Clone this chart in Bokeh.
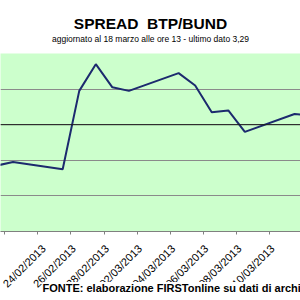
import math
import pandas as pd
from bokeh.plotting import figure
from bokeh.models import Range1d, FixedTicker, DatetimeTickFormatter, Span, Title
from bokeh.embed import file_html
from bokeh.resources import INLINE

# ---- data ----
dates = ["21/02/2013", "22/02/2013", "25/02/2013", "26/02/2013", "27/02/2013",
         "28/02/2013", "01/03/2013", "04/03/2013", "05/03/2013", "06/03/2013",
         "07/03/2013", "08/03/2013", "11/03/2013", "12/03/2013"]
spread = [2.97, 2.99, 2.95, 3.39, 3.54, 3.41, 3.39, 3.49, 3.42, 3.27,
          3.28, 3.16, 3.26, 3.25]
grid_levels = [2.6, 2.8, 3.0, 3.2, 3.4, 3.6]
boundary_dates = ["22/02/2013", "24/02/2013", "26/02/2013", "28/02/2013", "02/03/2013",
                  "04/03/2013", "06/03/2013", "08/03/2013", "10/03/2013", "12/03/2013"]
label_dates = ["24/02/2013", "26/02/2013", "28/02/2013", "02/03/2013",
               "04/03/2013", "06/03/2013", "08/03/2013", "10/03/2013"]
title_text = "SPREAD\u00a0\u00a0BTP/BUND"
subtitle_text = "aggiornato al 18 marzo alle ore 13 - ultimo dato 3,29"
source_text = "FONTE: elaborazione FIRSTonline su dati di archivio"

FONT = "Liberation Sans"
DAY_MS = 86400000.0
LABEL_SHIFT = 0.33 * DAY_MS   # label anchor sits a little left of the day centre

def to_ms(s):
    return pd.Timestamp(pd.to_datetime(s, format="%d/%m/%Y")).value / 1e6

xs = [to_ms(d) for d in dates]
label_ms = [to_ms(d) - LABEL_SHIFT for d in label_dates]
label_map = {m: d for m, d in zip(label_ms, label_dates)}
minor_ms = [to_ms(d) - DAY_MS / 2 for d in boundary_dates]

ref = to_ms(boundary_dates[0])
x_start = ref - 0.755 * DAY_MS
x_end = ref + 17.36 * DAY_MS

p = figure(width=300, height=300, x_axis_type="datetime", title=None,
           x_range=Range1d(x_start, x_end), y_range=Range1d(2.6, 3.6),
           y_axis_location=None, output_backend="svg", toolbar_location=None,
           min_border_left=0, min_border_right=0, min_border_top=53,
           min_border_bottom=69)

p.background_fill_color = "#CCFFCC"
p.border_fill_color = "white"
p.outline_line_color = None

p.xgrid.visible = False
p.ygrid.ticker = FixedTicker(ticks=grid_levels)
p.ygrid.grid_line_color = "#8a8a8a"
p.ygrid.grid_line_width = 1

p.add_layout(Span(location=3.2, dimension="width", line_color="#1a1a1a", line_width=1))

p.line(xs, spread, line_color="#1c2a6e", line_width=2)

ax = p.xaxis[0]
ax.ticker = FixedTicker(ticks=label_ms, minor_ticks=minor_ms)
fmt = "%d/%m/%Y"
ax.formatter = DatetimeTickFormatter(microseconds=fmt, milliseconds=fmt, seconds=fmt,
                                     minsec=fmt, minutes=fmt, hourmin=fmt, hours=fmt,
                                     days=fmt, months=fmt, years=fmt)
ax.major_label_overrides = label_map
ax.major_label_orientation = math.pi / 4
ax.major_label_text_font = FONT
ax.major_label_text_font_size = "11px"
ax.major_label_text_color = "black"
ax.major_tick_line_color = None
ax.major_tick_out = 0
ax.major_tick_in = 0
ax.minor_tick_in = 0
ax.minor_tick_out = 3
ax.minor_tick_line_color = "#808080"
ax.axis_line_color = "#808080"
ax.major_label_standoff = 12

# titles (first added = closest to the frame)
p.add_layout(Title(text=subtitle_text, align="center", offset=3, standoff=20,
                   vertical_align="bottom", text_font=FONT, text_font_size="8.5px",
                   text_font_style="normal", text_color="black"), "above")
p.add_layout(Title(text=title_text, align="center", offset=3, standoff=-20,
                   vertical_align="bottom", text_font=FONT, text_font_size="15.5px",
                   text_font_style="bold", text_color="black"), "above")
p.add_layout(Title(text=source_text, align="left", offset=42, standoff=-29,
                   vertical_align="top", text_font=FONT, text_font_size="11px",
                   text_font_style="bold", text_color="black",
                   background_fill_color="white"), "below")

open("out.html", "w").write(file_html(p, INLINE))
